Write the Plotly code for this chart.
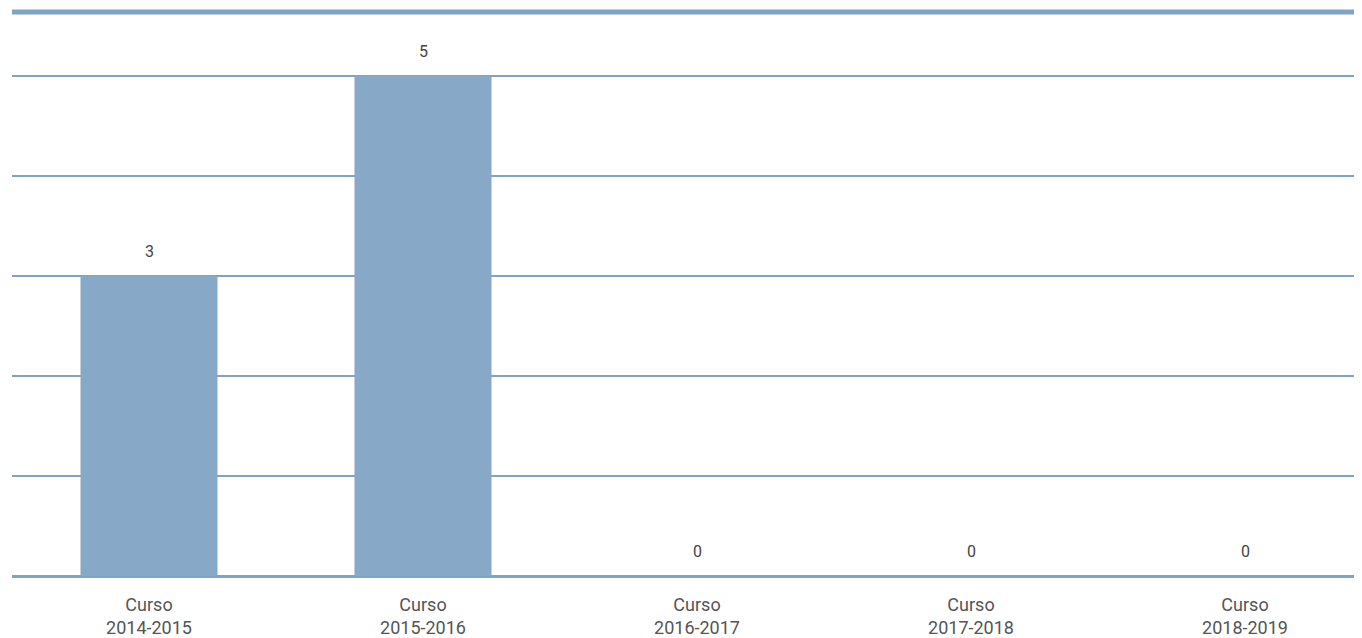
import plotly.graph_objects as go

categories = ["Curso<br>2014-2015", "Curso<br>2015-2016", "Curso<br>2016-2017", "Curso<br>2017-2018", "Curso<br>2018-2019"]
values = [3, 5, 0, 0, 0]

bar_color = "#87a8c6"
grid_color = "#7fa3c4"
font_family = "Roboto, Arial Narrow, sans-serif"

fig = go.Figure()
fig.add_trace(go.Bar(
    x=list(range(len(categories))), y=values,
    marker=dict(color=bar_color, line=dict(width=0)),
    width=0.5,
    hoverinfo="skip",
))

for i, v in enumerate(values):
    fig.add_annotation(x=i, y=v, text=str(v), showarrow=False, yshift=25,
                       font=dict(family=font_family, size=16, color="#444"))

fig.add_shape(type="line", xref="paper", yref="paper", x0=0, x1=1, y0=1, y1=1,
              line=dict(color=grid_color, width=5))

fig.update_layout(
    width=1354, height=630,
    margin=dict(l=4, r=0, t=4, b=62),
    paper_bgcolor="white", plot_bgcolor="white",
    showlegend=False,
    font=dict(family=font_family, size=18, color="#555"),
    xaxis=dict(range=[-0.5, 4.427], tickmode="array", tickvals=list(range(len(categories))),
               ticktext=categories, showgrid=False, zeroline=False, showline=False,
               ticks="", ticklabelstandoff=16,
               tickfont=dict(family=font_family, size=18, color="#555")),
    yaxis=dict(range=[0, 5.64], dtick=1, showgrid=True, gridcolor=grid_color, gridwidth=2,
               zeroline=True, zerolinecolor=grid_color, zerolinewidth=3,
               showticklabels=False, ticks="", showline=False),
)

fig.write_html("out.html")
